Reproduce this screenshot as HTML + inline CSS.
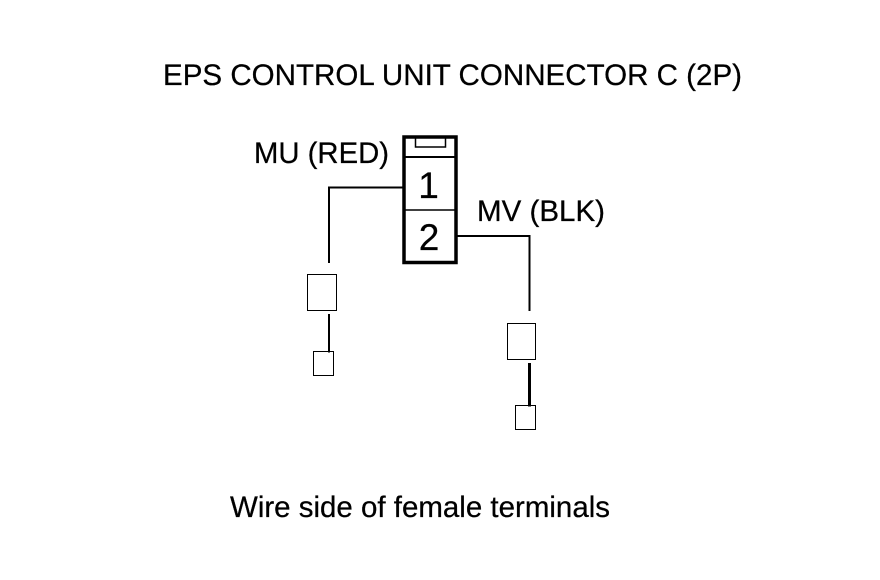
<!DOCTYPE html>
<html>
<head>
<meta charset="utf-8">
<style>
html,body{margin:0;padding:0;background:#fff;}
svg{display:block;}
text{font-family:"Liberation Sans",sans-serif;fill:#000;stroke:#000;stroke-width:0.25px;}
</style>
</head>
<body>
<svg width="880" height="580" viewBox="0 0 880 580" xmlns="http://www.w3.org/2000/svg">
<rect width="880" height="580" fill="#fff"/>
<text x="163" y="85" font-size="30" textLength="579" lengthAdjust="spacingAndGlyphs">EPS CONTROL UNIT CONNECTOR C (2P)</text>
<text x="254" y="163" font-size="30" textLength="135" lengthAdjust="spacingAndGlyphs">MU (RED)</text>
<text x="477" y="221" font-size="30" textLength="128" lengthAdjust="spacingAndGlyphs">MV (BLK)</text>
<text x="230" y="517" font-size="30" textLength="380" lengthAdjust="spacingAndGlyphs">Wire side of female terminals</text>
<text x="428.500" y="198" font-size="37" text-anchor="middle">1</text>
<text x="429" y="250" font-size="37" text-anchor="middle">2</text>
<g fill="none" stroke="#000">
<rect x="404" y="137" width="52" height="125.500" stroke-width="3.500"/>
<path d="M404 157H456" stroke-width="2"/>
<path d="M404 210H456" stroke-width="1.500"/>
<path d="M415.500 137V147H445.500V137" stroke-width="1.500"/>
<path d="M403 187.500H329V263" stroke-width="2"/>
<path d="M457 236H529.500V311" stroke-width="2"/>
<path d="M329 314V352.500" stroke-width="2"/>
<path d="M529.500 363V406.500" stroke-width="3"/>
<rect x="307.500" y="274.500" width="29" height="36" stroke-width="1"/>
<rect x="313.500" y="351.500" width="20" height="24" stroke-width="1"/>
<rect x="507.500" y="323.500" width="28" height="36" stroke-width="1"/>
<rect x="515.500" y="405.500" width="20" height="24" stroke-width="1"/>
</g>
</svg>
</body>
</html>
